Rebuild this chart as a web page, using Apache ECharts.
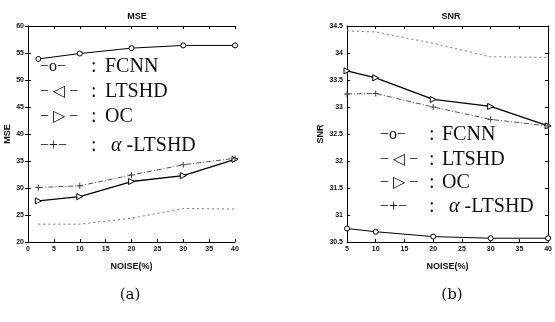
<!DOCTYPE html>
<html>
<head>
<meta charset="utf-8">
<script src="https://cdn.jsdelivr.net/npm/echarts@6/dist/echarts.min.js"></script>
<style>
  html, body { margin: 0; padding: 0; background: #fff; }
  #chart { width: 555px; height: 322px; }
</style>
</head>
<body>
<div id="chart"></div>
<script>
// (a) MSE vs noise
var mseNoise = [2, 10, 20, 30, 40]
var mseFCNN = [53.9, 54.9, 55.9, 56.4, 56.4]
var mseLTSHD = [23.3, 23.3, 24.4, 26.2, 26.1]
var mseOC = [27.6, 28.4, 31.2, 32.3, 35.3]
var mseAlpha = [30.1, 30.4, 32.4, 34.3, 35.5]

// (b) SNR vs noise
var snrNoise = [5, 10, 20, 30, 40]
var snrFCNN = [30.75, 30.69, 30.6, 30.57, 30.57]
var snrLTSHD = [34.41, 34.39, 34.18, 33.93, 33.92]
var snrOC = [33.67, 33.54, 33.14, 33.01, 32.65]
var snrAlpha = [33.24, 33.25, 33.0, 32.77, 32.65]

var legendNames = ['FCNN', 'LTSHD', 'OC', 'α-LTSHD']
var legendSymbols = ['−o−', '− ◁ −', '− ▷ −', '−+−']

var chart = echarts.init(document.getElementById('chart'))

function pairs(xs, ys) {
  return xs.map(function(x, i) { return [x, ys[i]] })
}

var tickFont = { fontSize: 7, fontWeight: 'bold', color: '#111', fontFamily: 'Liberation Sans' }
var nameFont = { fontSize: 9, fontWeight: 'bold', color: '#111', fontFamily: 'Liberation Sans' }
var plusPath = 'path://M0,5L10,5M5,0L5,10'

function xAxisMain(idx, min, max) {
  return {
    type: 'value', gridIndex: idx, min: min, max: max, interval: 5,
    name: 'NOISE(%)', nameLocation: 'middle', nameGap: 20, nameTextStyle: nameFont,
    axisLine: { lineStyle: { color: '#000', width: 1 } },
    axisTick: { inside: true, length: 3, lineStyle: { color: '#000' } },
    axisLabel: Object.assign({ margin: 4 }, tickFont),
    splitLine: { show: false }
  }
}
function xAxisTop(idx, min, max) {
  return {
    type: 'value', gridIndex: idx, min: min, max: max, interval: 5, position: 'top',
    axisLine: { lineStyle: { color: '#000', width: 1 } },
    axisTick: { inside: true, length: 3, lineStyle: { color: '#000' } },
    axisLabel: { show: false }, splitLine: { show: false }
  }
}
function yAxisMain(idx, min, max, step, name, gap) {
  return {
    type: 'value', gridIndex: idx, min: min, max: max, interval: step,
    name: name, nameLocation: 'middle', nameGap: gap, nameTextStyle: nameFont,
    axisLine: { lineStyle: { color: '#000', width: 1 } },
    axisTick: { inside: true, length: 3, lineStyle: { color: '#000' } },
    axisLabel: Object.assign({ margin: 4 }, tickFont),
    splitLine: { show: false }
  }
}
function yAxisRight(idx, min, max, step) {
  return {
    type: 'value', gridIndex: idx, min: min, max: max, interval: step, position: 'right',
    axisLine: { lineStyle: { color: '#000', width: 1 } },
    axisTick: { inside: true, length: 3, lineStyle: { color: '#000' } },
    axisLabel: { show: false }, splitLine: { show: false }
  }
}

function makeSeries(xi, yi, xs, f, l, o, a) {
  return [{
    type: 'line', xAxisIndex: xi, yAxisIndex: yi, data: pairs(xs, f),
    symbol: 'circle', symbolSize: 5, showAllSymbol: true,
    itemStyle: { color: '#fff', borderColor: '#000', borderWidth: 1 },
    lineStyle: { color: '#000', width: 1 }
  }, {
    type: 'line', xAxisIndex: xi, yAxisIndex: yi, data: pairs(xs, l),
    symbol: 'none',
    lineStyle: { color: '#777', width: 1, type: [2, 3] }
  }, {
    type: 'line', xAxisIndex: xi, yAxisIndex: yi, data: pairs(xs, o),
    symbol: 'triangle', symbolSize: 6, symbolRotate: -90,
    itemStyle: { color: '#fff', borderColor: '#000', borderWidth: 1 },
    lineStyle: { color: '#000', width: 1.3 }
  }, {
    type: 'line', xAxisIndex: xi, yAxisIndex: yi, data: pairs(xs, a),
    symbol: plusPath, symbolSize: 6,
    itemStyle: { color: '#444', borderColor: '#444', borderWidth: 1 },
    lineStyle: { color: '#555', width: 1, type: [5, 2, 1, 2] }
  }]
}

// legend drawn as text, one block per panel
function legendBlock(symX, colonX, nameX, alphaX, rows) {
  var els = []
  rows.forEach(function(y, i) {
    var font = { fontSize: 20, fontFamily: 'Liberation Serif, DejaVu Serif', fill: '#111', verticalAlign: 'middle' }
    var symFont = Object.assign({}, font, { fontSize: 16 })
    els.push({ type: 'text', x: symX, y: y, style: Object.assign({ text: legendSymbols[i] }, symFont) })
    els.push({ type: 'text', x: colonX, y: y, style: Object.assign({ text: ':' }, font) })
    var label = i === 3
      ? { text: '{a|α} -LTSHD', rich: { a: { fontStyle: 'italic', fontSize: 20, fontFamily: 'Liberation Serif' } } }
      : { text: legendNames[i] }
    els.push({ type: 'text', x: i === 3 ? alphaX : nameX, y: y, style: Object.assign(label, font) })
  })
  return els
}

var option = {
  animation: false,
  backgroundColor: '#fff',
  title: [
    { text: 'MSE', left: 132, top: 7, textAlign: 'center', textStyle: nameFont },
    { text: 'SNR', left: 446, top: 7, textAlign: 'center', textStyle: nameFont },
    { text: '(a)', left: 125, top: 283, textAlign: 'center', textStyle: { fontSize: 15, fontWeight: 'normal', color: '#111', fontFamily: 'DejaVu Serif' } },
    { text: '(b)', left: 447, top: 283, textAlign: 'center', textStyle: { fontSize: 15, fontWeight: 'normal', color: '#111', fontFamily: 'DejaVu Serif' } }
  ],
  grid: [
    { left: 28, top: 26, width: 207, height: 216 },
    { left: 347, top: 26, width: 207, height: 216 }
  ],
  xAxis: [
    xAxisMain(0, 0, 40), xAxisMain(1, 5, 40),
    xAxisTop(0, 0, 40), xAxisTop(1, 5, 40)
  ],
  yAxis: [
    yAxisMain(0, 20, 60, 5, 'MSE', 16), yAxisMain(1, 30.5, 34.5, 0.5, 'SNR', 20),
    yAxisRight(0, 20, 60, 5), yAxisRight(1, 30.5, 34.5, 0.5)
  ],
  series: makeSeries(0, 0, mseNoise, mseFCNN, mseLTSHD, mseOC, mseAlpha)
    .concat(makeSeries(1, 1, snrNoise, snrFCNN, snrLTSHD, snrOC, snrAlpha)),
  graphic: legendBlock(40, 91, 105, 111, [67, 92, 117, 146])
    .concat(legendBlock(380, 429, 442, 449, [135, 160, 183, 207]))
}

chart.setOption(option)
</script>
</body>
</html>
